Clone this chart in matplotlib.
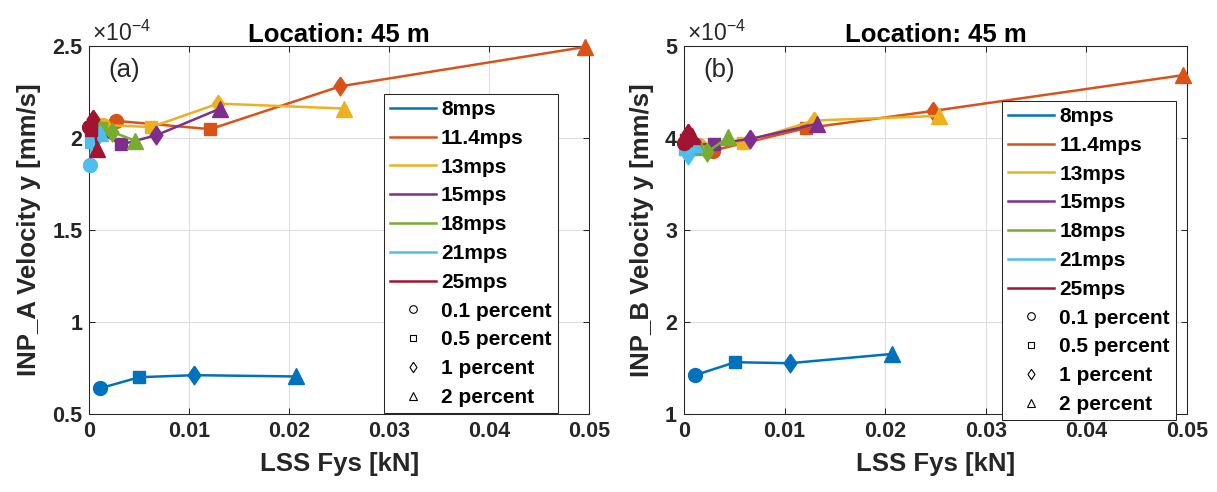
import matplotlib
matplotlib.use('Agg')
import matplotlib.pyplot as plt
from matplotlib.lines import Line2D
from matplotlib.ticker import FormatStrFormatter

# wind speed cases and turbulence percentages
speeds = ['8mps', '11.4mps', '13mps', '15mps', '18mps', '21mps', '25mps']
percents = ['0.1 percent', '0.5 percent', '1 percent', '2 percent']

# (a) LSS Fys [kN] vs INP_A velocity y [x1e-4 mm/s], one row per speed, columns = percent
fys_a = [
    [0.0011, 0.0050, 0.0105, 0.0207],
    [0.0027, 0.0121, 0.0251, 0.0496],
    [0.0014, 0.0062, 0.0129, 0.0255],
    [0.0010, 0.0032, 0.0067, 0.0131],
    [0.0005, 0.0012, 0.0023, 0.0046],
    [0.0001, 0.0002, 0.0008, 0.0011],
    [0.0000, 0.0002, 0.0004, 0.0008],
]
vel_a = [
    [0.640, 0.700, 0.711, 0.704],
    [2.093, 2.048, 2.281, 2.495],
    [2.070, 2.060, 2.187, 2.160],
    [2.030, 1.965, 2.015, 2.160],
    [2.070, 2.055, 2.033, 1.985],
    [1.853, 1.979, 2.005, 2.025],
    [2.060, 2.045, 2.105, 1.940],
]

# (b) LSS Fys [kN] vs INP_B velocity y [x1e-4 mm/s]
fys_b = [
    [0.0011, 0.0051, 0.0105, 0.0207],
    [0.0029, 0.0121, 0.0248, 0.0496],
    [0.0015, 0.0059, 0.0129, 0.0253],
    [0.0010, 0.0030, 0.0066, 0.0132],
    [0.0005, 0.0012, 0.0023, 0.0044],
    [0.0002, 0.0001, 0.0004, 0.0010],
    [0.0000, 0.0002, 0.0004, 0.0008],
]
vel_b = [
    [1.422, 1.563, 1.552, 1.653],
    [3.864, 4.106, 4.295, 4.683],
    [3.920, 3.950, 4.190, 4.240],
    [3.930, 3.936, 3.990, 4.153],
    [3.900, 3.880, 3.846, 4.009],
    [3.900, 3.880, 3.810, 3.930],
    [3.950, 3.980, 4.050, 4.020],
]

colors = ['#0072BD', '#D95319', '#EDB120', '#7E2F8E', '#77AC30', '#4DBEEE', '#A2142F']
# matlab-like diamond (a bit wider than matplotlib's 'd')
diamond = [(0, 1), (0.68, 0), (0, -1), (-0.68, 0), (0, 1)]
markers = ['o', 's', diamond, '^']
msizes = [10, 8, 13.5, 11]

plt.rcParams['font.family'] = ['Liberation Sans', 'DejaVu Sans']
axcol = '#262626'


def draw(ax, fys, vel, ylim, yticks, ylabel, tag, leg_anchor):
    for k in range(len(speeds)):
        ax.plot(fys[k], vel[k], '-', color=colors[k], lw=1.8, zorder=3)
        for j in range(4):
            ax.plot(fys[k][j], vel[k][j], marker=markers[j], ms=msizes[j],
                    color=colors[k], ls='none', zorder=3, clip_on=False)
    ax.set_xlim(0, 0.05)
    ax.set_ylim(*ylim)
    ax.set_xticks([0, 0.01, 0.02, 0.03, 0.04, 0.05])
    ax.set_yticks(yticks)
    ax.xaxis.set_major_formatter(FormatStrFormatter('%g'))
    ax.yaxis.set_major_formatter(FormatStrFormatter('%g'))
    ax.grid(True, color='#dfdfdf', lw=0.8)
    ax.set_axisbelow(True)
    ax.tick_params(direction='in', length=4.5, width=0.75, colors=axcol,
                   labelsize=15.5, top=True, right=True, pad=5)
    for lab in ax.get_xticklabels() + ax.get_yticklabels():
        lab.set_fontweight('bold')
    for s in ax.spines.values():
        s.set_color(axcol)
        s.set_linewidth(0.75)
    ax.set_xlabel('LSS Fys [kN]', fontsize=18.5, fontweight='bold', color=axcol, labelpad=7)
    ax.set_ylabel(ylabel, fontsize=18.5, fontweight='bold', color=axcol, labelpad=8)
    ax.set_title('Location: 45 m', fontsize=18.5, fontweight='bold', pad=3)
    ax.text(0.07, 0.935, tag, transform=ax.transAxes, fontsize=18.5,
            ha='center', va='center', color=axcol)
    ax.text(0.005, 1.0, '×10$^{\\mathregular{-4}}$', transform=ax.transAxes,
            fontsize=16.5, ha='left', va='bottom', color=axcol)

    handles = [Line2D([], [], color=c, lw=1.8) for c in colors]
    handles += [Line2D([], [], color='k', marker=m, ls='none', mfc='none',
                       ms=s * 0.55, mew=0.8) for m, s in zip(markers, msizes)]
    leg = ax.legend(handles, speeds + percents, loc='upper left',
                    bbox_to_anchor=leg_anchor, borderaxespad=0,
                    prop={'weight': 'bold', 'size': 15}, labelspacing=0.47,
                    handlelength=2.2, handletextpad=0.25, borderpad=0.3,
                    fancybox=False, framealpha=1, edgecolor=axcol)
    leg.get_frame().set_linewidth(0.75)


fig = plt.figure(figsize=(12.17, 4.92), dpi=100)
ax1 = fig.add_axes([89.3 / 1217, 78 / 492, 500 / 1217, 368 / 492])
ax2 = fig.add_axes([684 / 1217, 78 / 492, 503 / 1217, 368 / 492])

draw(ax1, fys_a, vel_a, (0.5, 2.5), [0.5, 1, 1.5, 2, 2.5],
     'INP_A Velocity y [mm/s]', '(a)', (0.589, 0.87))
draw(ax2, fys_b, vel_b, (1, 5), [1, 2, 3, 4, 5],
     'INP_B Velocity y [mm/s]', '(b)', (0.632, 0.851))

fig.savefig('out.png', dpi=100)
